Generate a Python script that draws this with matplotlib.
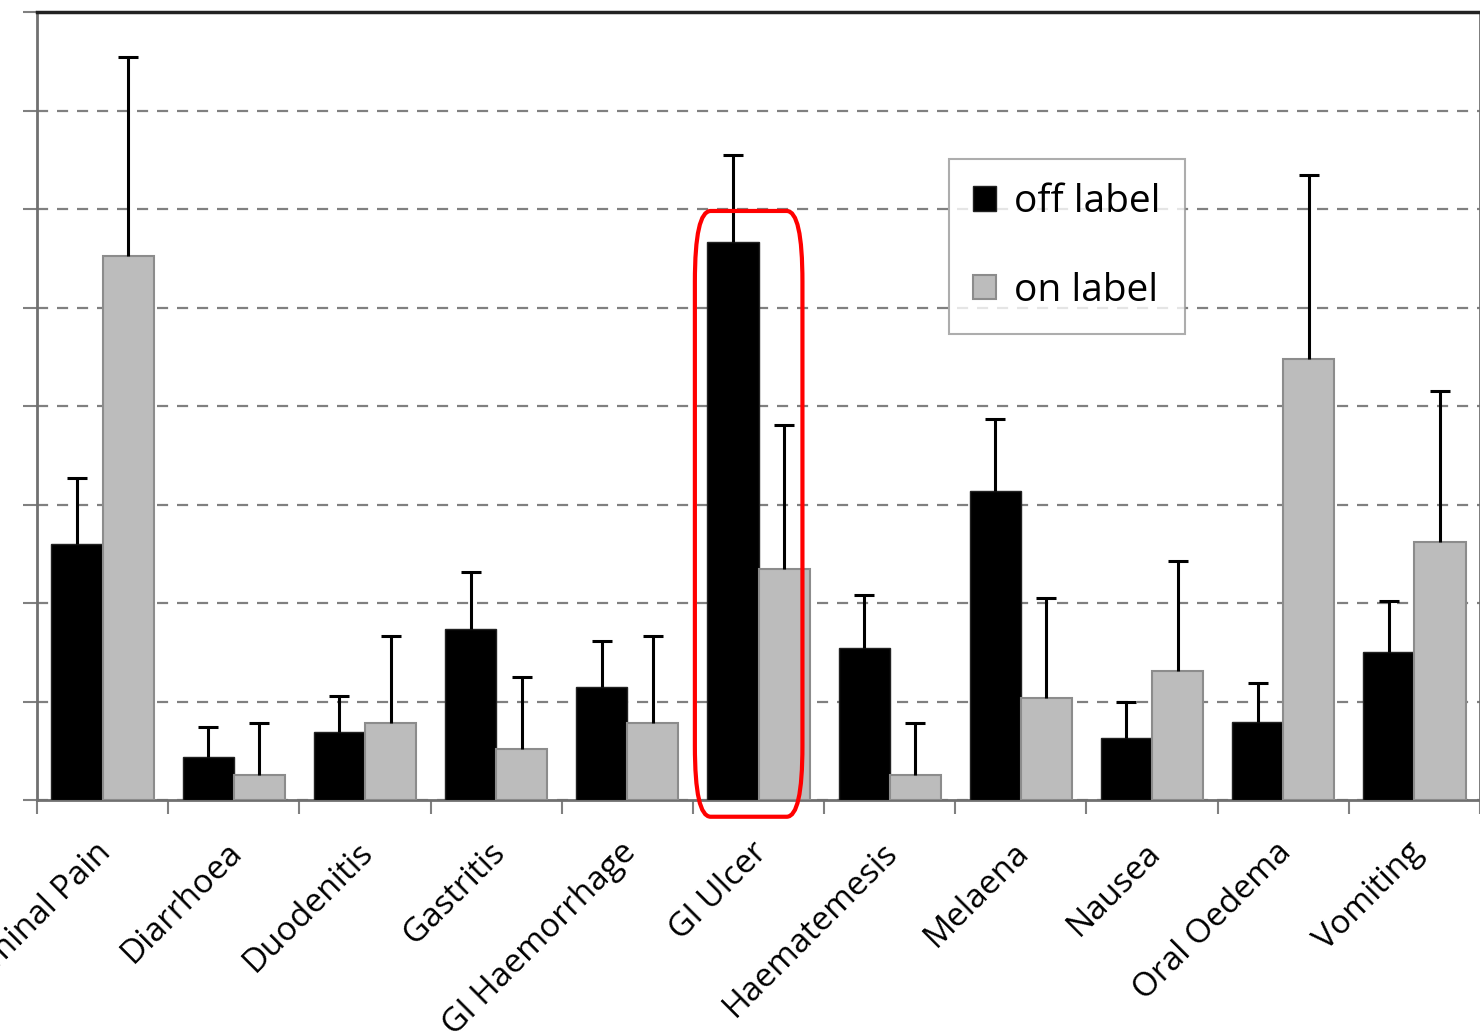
import numpy as np
import matplotlib.pyplot as plt
from matplotlib.patches import FancyBboxPatch
from matplotlib.transforms import ScaledTranslation

# adverse event categories and mean values (with upper error)
events = ['Abdominal Pain', 'Diarrhoea', 'Duodenitis', 'Gastritis', 'GI Haemorrhage',
          'GI Ulcer', 'Haematemesis', 'Melaena', 'Nausea', 'Oral Oedema', 'Vomiting']
off_label = [2.60, 0.44, 0.69, 1.74, 1.15, 5.67, 1.54, 3.14, 0.63, 0.79, 1.50]
off_err = [0.67, 0.30, 0.37, 0.57, 0.46, 0.88, 0.54, 0.73, 0.36, 0.40, 0.52]
on_label = [5.52, 0.25, 0.78, 0.52, 0.78, 2.35, 0.25, 1.04, 1.31, 4.48, 2.62]
on_err = [2.02, 0.53, 0.89, 0.73, 0.89, 1.46, 0.53, 1.01, 1.12, 1.87, 1.53]

plt.rcParams['font.family'] = ['Open Sans', 'DejaVu Sans']

fig = plt.figure(figsize=(14.8, 10.33), dpi=100)
ax = fig.add_axes([37 / 1480, 1 - 800 / 1033, 1 - 37 / 1480, 788 / 1033])

x = np.arange(len(events))
w = 0.39
ax.bar(x - w / 2, off_label, w, color='black', edgecolor='#222222', linewidth=1,
       label='off label', zorder=3)
ax.bar(x + w / 2, on_label, w, color='#bcbcbc', edgecolor='#8c8c8c', linewidth=1.5,
       label='on label', zorder=3)

# upper error bars only, no cap at the bar top
for xs, vals, errs in [(x - w / 2, off_label, off_err), (x + w / 2, on_label, on_err)]:
    eb = ax.errorbar(xs, vals, yerr=[np.zeros(len(x)), errs], fmt='none',
                     ecolor='black', elinewidth=2.2, capsize=7, capthick=2.2, zorder=4)
    eb.lines[1][0].set_visible(False)

ax.set_xlim(-0.5, len(events) - 0.5)
ax.set_ylim(0, 8)
ax.set_yticks(range(0, 9))
ax.set_yticklabels([])
ax.yaxis.grid(True, linestyle=(0, (5, 4)), color='#808080', linewidth=1.6, zorder=0)
ax.tick_params(axis='y', length=10, width=1.5, color='#808080')

ax.set_xticks(x)
ax.set_xticklabels(events, rotation=45, ha='right', rotation_mode='anchor', fontsize=24)
ax.set_xticks(np.arange(-0.5, len(events)), minor=True)
ax.tick_params(axis='x', which='major', length=0, pad=26)
ax.tick_params(axis='x', which='minor', length=10, width=1.5, color='#808080')
shift = ScaledTranslation(-8 / 100, 0, fig.dpi_scale_trans)
for lbl in ax.get_xticklabels():
    lbl.set_transform(lbl.get_transform() + shift)

for side in ['left', 'bottom', 'right']:
    ax.spines[side].set_color('#707070')
    ax.spines[side].set_linewidth(2)
ax.spines['top'].set_color('#222222')
ax.spines['top'].set_linewidth(2.5)

leg = ax.legend(loc='upper left', bbox_to_anchor=(912 / 1443, 1 - 147 / 788),
                borderaxespad=0, fontsize=28, frameon=True, fancybox=False,
                edgecolor='#999999', handlelength=0.6, handleheight=0.6,
                handletextpad=0.45, labelspacing=1.3, borderpad=0.62)
leg.get_frame().set_linewidth(1.5)

# highlight the GI Ulcer group
box = FancyBboxPatch((5 - 0.485, -0.17), 0.82, 6.15,
                     boxstyle='round,pad=0,rounding_size=0.12', mutation_aspect=6,
                     fill=False, edgecolor='red', linewidth=3, clip_on=False, zorder=5)
ax.add_patch(box)

fig.savefig('out.png', dpi=100)
